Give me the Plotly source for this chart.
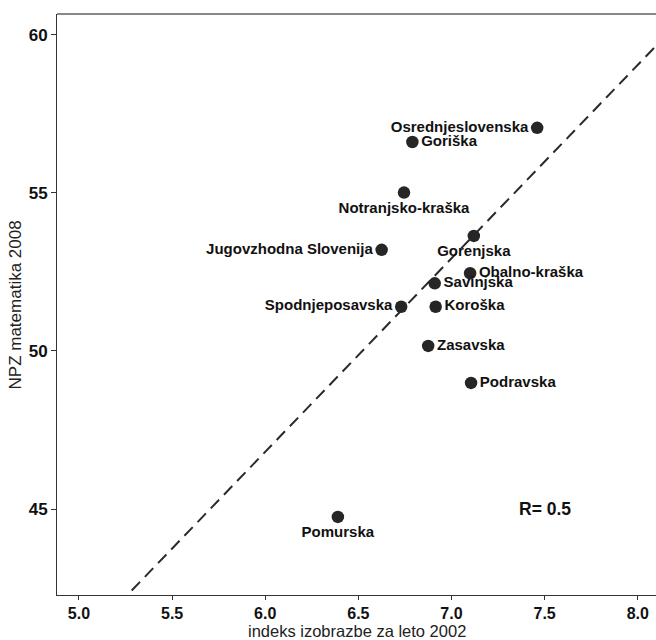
import plotly.graph_objects as go

regions = ["Osrednjeslovenska", "Goriška", "Notranjsko-kraška", "Gorenjska",
           "Jugovzhodna Slovenija", "Obalno-kraška", "Savinjska", "Spodnjeposavska",
           "Koroška", "Zasavska", "Podravska", "Pomurska"]
indeks = [7.46, 6.79, 6.745, 7.12, 6.625, 7.10, 6.91, 6.73, 6.915, 6.875, 7.105, 6.39]
npz = [57.06, 56.61, 55.01, 53.64, 53.20, 52.46, 52.14, 51.40, 51.40, 50.16, 48.99, 44.75]
label_pos = ["middle left", "middle right", "bottom center", "bottom center",
             "middle left", "middle right", "middle right", "middle left",
             "middle right", "middle right", "middle right", "bottom center"]

fit_intercept = 10.09
fit_slope = 6.12
fit_x = [5.0, 8.3]
fit_y = [fit_intercept + fit_slope * v for v in fit_x]

x_ticks = [5.0, 5.5, 6.0, 6.5, 7.0, 7.5, 8.0]
y_ticks = [45, 50, 55, 60]
r_text = "R= 0.5"

FONT = "Liberation Sans, Arial, sans-serif"

fig = go.Figure()
fig.add_trace(go.Scatter(
    x=fit_x, y=fit_y, mode="lines",
    line=dict(color="#2a2a2a", width=2, dash="12px,7px"),
    hoverinfo="skip", showlegend=False))
fig.add_trace(go.Scatter(
    x=indeks, y=npz, mode="markers+text",
    text=["<b>" + r + "</b>" for r in regions],
    textposition=label_pos,
    textfont=dict(family=FONT, size=15, color="#111111"),
    marker=dict(size=12.5, color="#262626"),
    showlegend=False))

fig.add_annotation(x=7.5, y=45.0, text="<b>" + r_text + "</b>", showarrow=False,
                   font=dict(family=FONT, size=17.5, color="#111111"))

fig.add_annotation(xref="paper", yref="paper", x=0.5, y=-0.0625, yanchor="middle",
                   text="indeks izobrazbe za leto 2002", showarrow=False,
                   font=dict(family=FONT, size=16.5, color="#222222"))
fig.add_annotation(xref="paper", yref="paper", x=-0.0685, xanchor="center", y=0.5,
                   text="NPZ matematika 2008", textangle=-90, showarrow=False,
                   font=dict(family=FONT, size=17, color="#222222"))

fig.add_shape(type="line", xref="paper", yref="paper", x0=0, x1=1, y0=1, y1=1,
              line=dict(color="#888888", width=2))

fig.update_layout(
    width=656, height=640,
    margin=dict(l=57, r=0, t=14, b=45),
    plot_bgcolor="white", paper_bgcolor="white",
    font=dict(family=FONT),
    xaxis=dict(range=[4.882, 8.098], tickvals=x_ticks,
               ticktext=["<b>%.1f</b>" % v for v in x_ticks],
               showgrid=False, zeroline=False, showline=True, linecolor="#333333", linewidth=1,
               ticks="outside", ticklen=4, tickcolor="#333333",
               tickfont=dict(size=16, color="#111111")),
    yaxis=dict(range=[42.28, 60.66], tickvals=y_ticks,
               ticktext=["<b>%d</b>" % v for v in y_ticks],
               showgrid=False, zeroline=False, showline=True, linecolor="#333333", linewidth=1,
               ticks="outside", ticklen=5, tickcolor="#333333",
               tickfont=dict(size=17, color="#111111")),
)

fig.write_html("out.html")
